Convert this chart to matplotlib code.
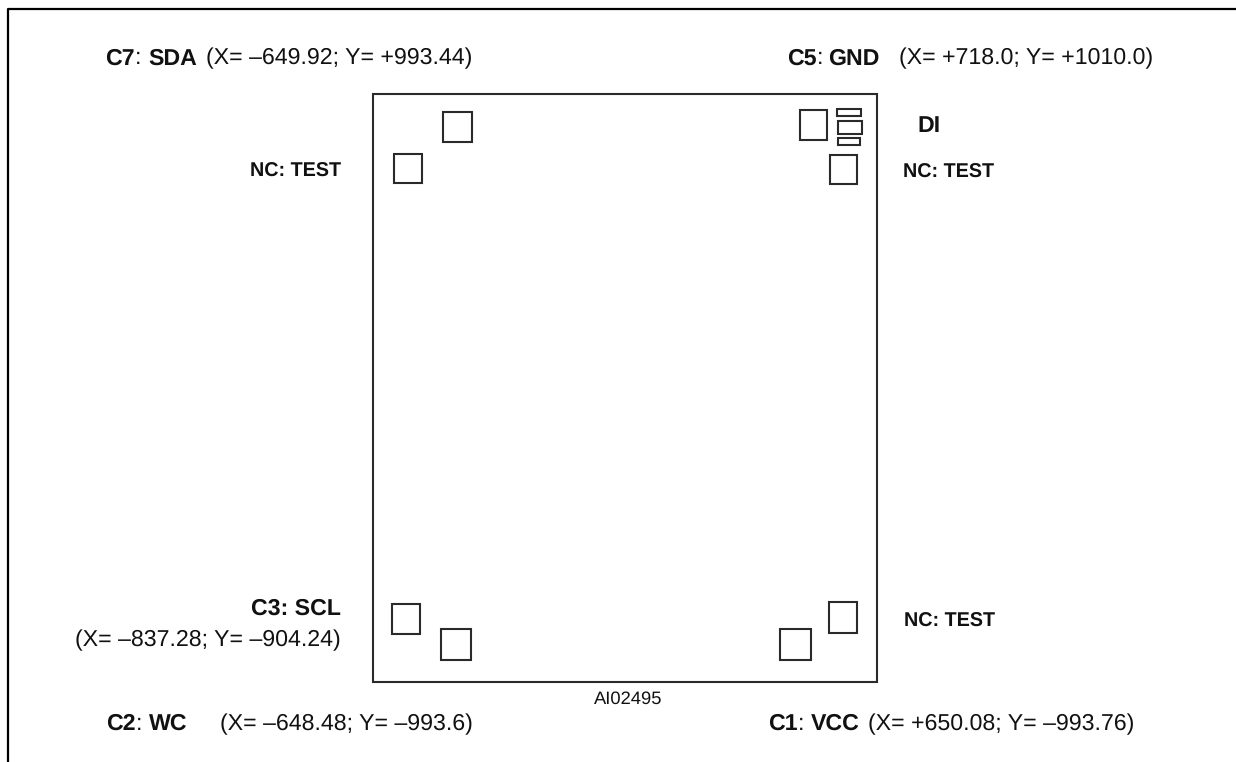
import matplotlib
matplotlib.use("Agg")
import matplotlib.pyplot as plt
from matplotlib.patches import Rectangle

plt.rcParams["font.family"] = ["Liberation Sans", "DejaVu Sans"]
plt.rcParams["text.hinting"] = "none"

# everything is in reference pixels: x, y, width, height
die = (373, 94, 504, 588)
pads = [
    (443, 112, 29, 30),
    (394, 154, 28, 29),
    (800, 110, 27, 30),
    (830, 155, 27, 29),
    (392, 604, 28, 30),
    (441, 629, 30, 31),
    (829, 602, 28, 31),
    (780, 629, 31, 31),
]
di_marks = [
    (837, 109, 24, 7),
    (838, 121, 24, 13),
    (838, 138, 22, 7),
]

# (x, baseline y, text, bold, horizontal alignment, font size)
labels = [
    (105, 64.5, "C7", True, "left", 16.7),
    (135, 64.5, ":", False, "left", 16.7),
    (148, 64.5, "SDA", True, "left", 16.7),
    (206, 64.5, "(X= –649.92; Y= +993.44)", False, "left", 16.7),
    (787, 64.5, "C5", True, "left", 16.7),
    (817, 64.5, ":", False, "left", 16.7),
    (828, 64.5, "GND", True, "left", 16.7),
    (899, 64.5, "(X= +718.0; Y= +1010.0)", False, "left", 16.7),
    (917, 132, "DI", True, "left", 16.7),
    (341, 177, "NC: TEST", True, "right", 14.2),
    (903, 178, "NC: TEST", True, "left", 14.2),
    (341, 615, "C3: SCL", True, "right", 16.7),
    (341, 646.5, "(X= –837.28; Y= –904.24)", False, "right", 16.7),
    (904, 627, "NC: TEST", True, "left", 14.2),
    (106, 730, "C2", True, "left", 16.7),
    (136, 730, ":", False, "left", 16.7),
    (149, 730, "WC", True, "left", 16.7),
    (220, 730, "(X= –648.48; Y= –993.6)", False, "left", 16.7),
    (768, 730, "C1", True, "left", 16.7),
    (798, 730, ":", False, "left", 16.7),
    (811, 730, "VCC", True, "left", 16.7),
    (868, 730, "(X= +650.08; Y= –993.76)", False, "left", 16.7),
]

fig = plt.figure(figsize=(12.36, 7.62), dpi=100)
ax = fig.add_axes([0, 0, 1, 1])
ax.set_xlim(0, 1236)
ax.set_ylim(762, 0)
ax.axis("off")

# outer frame: only top and left edges show
ax.plot([8, 8, 1236], [762, 9, 9], color="black", lw=1.6)

x, y, w, h = die
ax.add_patch(Rectangle((x, y), w, h, fill=False, ec="#2a2a2a", lw=1.5))
for x, y, w, h in pads + di_marks:
    ax.add_patch(Rectangle((x, y), w, h, fill=False, ec="#2a2a2a", lw=1.5))

for x, y, text, bold, ha, size in labels:
    ax.text(x, y, text, fontsize=size, fontweight="bold" if bold else "normal",
            ha=ha, va="baseline", color="#111111")

ax.text(628, 703.5, "AI02495", fontsize=13.2, ha="center", va="baseline", color="#111111")

fig.savefig("out.png", dpi=100)
